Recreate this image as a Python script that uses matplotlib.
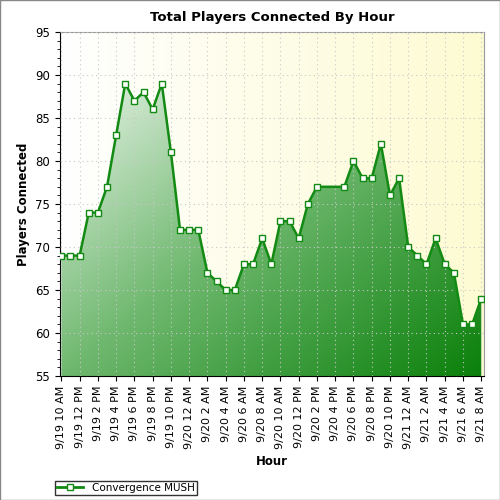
import numpy as np
import matplotlib
matplotlib.use("Agg")
import matplotlib.pyplot as plt
from matplotlib.colors import LinearSegmentedColormap
from matplotlib.lines import Line2D

hours = list(range(0, 29)) + list(range(31, 47))
players = [69,69,69,74,74,77,83,89,87,88,86,89,81,72,72,72,67,66,65,65,68,68,71,68,73,73,71,75,77,
           77,80,78,78,82,76,78,70,69,68,71,68,67,61,61,64]
tick_labels = ["9/19 10 AM","9/19 12 PM","9/19 2 PM","9/19 4 PM","9/19 6 PM","9/19 8 PM","9/19 10 PM",
               "9/20 12 AM","9/20 2 AM","9/20 4 AM","9/20 6 AM","9/20 8 AM","9/20 10 AM","9/20 12 PM",
               "9/20 2 PM","9/20 4 PM","9/20 6 PM","9/20 8 PM","9/20 10 PM","9/21 12 AM","9/21 2 AM",
               "9/21 4 AM","9/21 6 AM","9/21 8 AM"]

fig = plt.figure(figsize=(5, 5), dpi=100)
ax = fig.add_axes([0.12, 0.248, 0.848, 0.688])
xmin, xmax, ymin, ymax = -0.15, 46.3, 55, 95

bg = LinearSegmentedColormap.from_list("bg", ["#ffffff", "#fefde8", "#fdfbd2"])
grad = np.linspace(0, 1, 256).reshape(1, -1)
ax.imshow(grad, cmap=bg, extent=[xmin, xmax, ymin, ymax], aspect="auto", zorder=0)

fcmap = LinearSegmentedColormap.from_list("fg", ["#ffffff", "#6fb86f", "#0a800a"])
X, Y = np.meshgrid(np.linspace(0, 1, 200), np.linspace(0, 1, 200))
G = (X + Y) / 2
poly = ax.fill_between(hours, players, ymin, color="none")
im = ax.imshow(G, cmap=fcmap, extent=[xmin, xmax, ymin, ymax], origin="upper", aspect="auto", zorder=1)
im.set_clip_path(poly.get_paths()[0], transform=ax.transData)

ax.plot(hours, players, color="#138a13", lw=1.8, marker="s", ms=5, mfc="white", mec="#138a13", mew=1, zorder=3)

ax.set_xlim(xmin, xmax)
ax.set_ylim(ymin, ymax)
ax.set_yticks(range(55, 96, 5))
ax.set_yticks(range(55, 96, 1), minor=True)
ax.set_xticks(range(0, 47, 2))
ax.set_xticklabels(tick_labels, rotation=90, fontsize=8)
ax.tick_params(axis="y", labelsize=8.5)
ax.grid(True, which="major", color="#c8c8c8", ls=(0, (1, 3)), lw=0.8, zorder=0.5)
ax.set_axisbelow(False)
ax.spines["top"].set_color("#999999")
ax.spines["right"].set_color("#999999")
ax.set_title("Total Players Connected By Hour", fontsize=9.5, fontweight="bold", pad=8)
ax.set_xlabel("Hour", fontsize=8.5, fontweight="bold")
ax.set_ylabel("Players Connected", fontsize=8.5, fontweight="bold")

h = Line2D([], [], color="#138a13", lw=2, marker="s", ms=5, mfc="white", mec="#138a13")
fig.legend([h], ["Convergence MUSH"], loc="lower left", bbox_to_anchor=(0.1, 0.0), fontsize=7.5,
           frameon=True, fancybox=False, edgecolor="black", borderpad=0.2, handlelength=2.5)
fig.patches.append(plt.Rectangle((0, 0), 1, 1, transform=fig.transFigure, fill=False, ec="#888888", lw=1))
fig.savefig("out.png")
